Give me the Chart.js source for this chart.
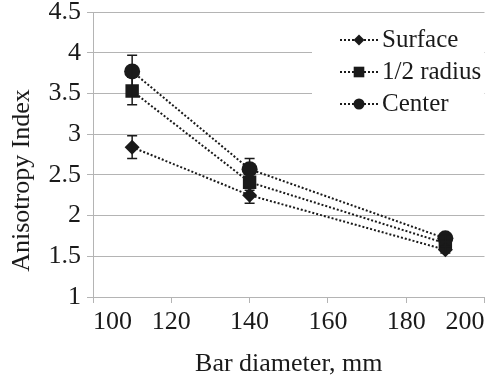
<!DOCTYPE html>
<html>
<head>
<meta charset="utf-8">
<script src="https://cdn.jsdelivr.net/npm/chart.js@4.4.0/dist/chart.umd.min.js"></script>
<style>
  html,body{margin:0;padding:0;background:#fff;}
  #wrap{width:494px;height:377px;}
</style>
</head>
<body>
<div id="wrap"><canvas id="c" width="494" height="377"></canvas></div>
<script>
// ── Data ────────────────────────────────────────────────────────────────────
const diameters   = [110, 140, 190];
const surface     = [2.84, 2.25, 1.58];
const halfRadius  = [3.53, 2.41, 1.66];
const center      = [3.77, 2.57, 1.72];
const errSurface  = [0.14, 0.10, 0.04];
const errHalf     = [0.17, 0.10, 0.04];
const errCenter   = [0.20, 0.13, 0.04];
const seriesNames = ["Surface", "1/2 radius", "Center"];
const yTicks      = ["1","1.5","2","2.5","3","3.5","4","4.5"];

const FONT = "'Liberation Serif','Times New Roman',serif";
const INK  = "#1a1a1a";
const GRID = "#b4b4b4";

function pts(ys){ return diameters.map((x,i)=>({x, y:ys[i]})); }

// ── Plugins ─────────────────────────────────────────────────────────────────
const errorBars = {
    id:"errorBars",
    afterDatasetsDraw(chart){
        const {ctx, scales:{x, y}} = chart;
        ctx.save();
        ctx.strokeStyle = INK;
        ctx.lineWidth = 1.5;
        chart.data.datasets.forEach(ds=>{
            ds.data.forEach((p,i)=>{
                const px = x.getPixelForValue(p.x);
                const lo = y.getPixelForValue(p.y - ds.err[i]);
                const hi = y.getPixelForValue(p.y + ds.err[i]);
                ctx.beginPath();
                ctx.moveTo(px, lo); ctx.lineTo(px, hi);
                ctx.moveTo(px-5, lo); ctx.lineTo(px+5, lo);
                ctx.moveTo(px-5, hi); ctx.lineTo(px+5, hi);
                ctx.stroke();
            });
        });
        ctx.restore();
    }
};

// legend box sits on top of the gridlines, like the original
const boxLegend = {
    id:"boxLegend",
    afterDraw(chart){
        const ctx = chart.ctx;
        ctx.save();
        ctx.fillStyle = "#fff";
        ctx.fillRect(312, 16, 172, 110);
        chart.data.datasets.forEach((ds,i)=>{
            const yy = 40 + i*32;
            ctx.strokeStyle = INK;
            ctx.lineWidth = 2;
            ctx.setLineDash([2,2]);
            ctx.beginPath(); ctx.moveTo(340, yy); ctx.lineTo(378, yy); ctx.stroke();
            ctx.setLineDash([]);
            ctx.fillStyle = INK;
            Chart.helpers.drawPoint(ctx, {pointStyle:ds.pointStyle, radius:ds.legendR, rotation:0}, 359, yy);
            ctx.font = "25px " + FONT;
            ctx.textBaseline = "middle";
            ctx.fillText(ds.label, 382, yy);
        });
        ctx.restore();
    }
};

// ── Chart ───────────────────────────────────────────────────────────────────
function ds(label, ys, err, style, r, lr){
    return {label, data:pts(ys), err, pointStyle:style, pointRadius:r, legendR:lr,
        borderColor:INK, backgroundColor:INK, pointBackgroundColor:INK, pointBorderColor:INK,
        borderWidth:2, borderDash:[2,2], pointBorderWidth:0, showLine:true, tension:0};
}

new Chart(document.getElementById("c"),{
    type:"scatter",
    data:{datasets:[
        ds(seriesNames[0], surface,    errSurface, "rectRot", 7.5, 5.5),
        ds(seriesNames[1], halfRadius, errHalf,    "rect",    9.5, 7.5),
        ds(seriesNames[2], center,     errCenter,  "circle",  8,   5.5)
    ]},
    plugins:[errorBars, boxLegend],
    options:{
        responsive:false, animation:false,
        layout:{padding:{top:12, right:9, left:0, bottom:0}},
        plugins:{legend:{display:false}, tooltip:{enabled:false}},
        scales:{
            x:{type:"linear", min:100, max:200,
               ticks:{stepSize:20, color:INK, font:{family:FONT, size:26}, padding:4, maxRotation:0, align:"inner"},
               grid:{drawOnChartArea:false, drawTicks:true, tickLength:6, color:GRID},
               border:{color:GRID, width:1},
               title:{display:true, text:"Bar diameter, mm", color:INK,
                      font:{family:FONT, size:26, lineHeight:1}, padding:{top:0, bottom:0}},
               afterFit(s){ s.height = 80; s.paddingLeft = 0; s.paddingRight = 0; }},
            y:{type:"linear", min:1, max:4.5,
               ticks:{stepSize:0.5, color:INK, font:{family:FONT, size:26}, padding:6,
                      callback:(v)=> yTicks[Math.round((v-1)*2)] ?? ""},
               grid:{color:GRID, lineWidth:1, drawTicks:true, tickLength:6},
               border:{color:GRID, width:1},
               title:{display:true, text:"Anisotropy Index" + "\u00a0".repeat(8), color:INK,
                      font:{family:FONT, size:26}, padding:{top:7, bottom:0}},
               afterFit(s){ s.width = 93; s.paddingTop = 0; s.paddingBottom = 0; }}
        }
    }
});
</script>
</body>
</html>
